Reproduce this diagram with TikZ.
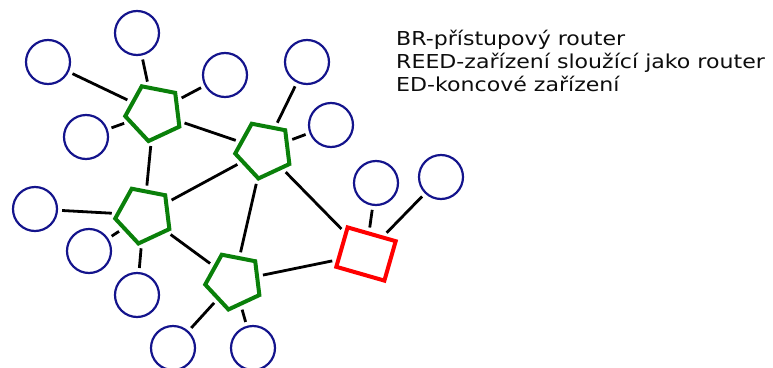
\documentclass[tikz,border=0pt]{standalone}
\usepackage{fontspec}
\setmainfont[FakeStretch=1.15]{DejaVu Sans}
\usetikzlibrary{shapes.geometric}
\definecolor{ednavy}{RGB}{20,20,140}
\definecolor{reedgreen}{RGB}{10,128,10}
\tikzset{
  ed/.style={circle,draw=ednavy,line width=2.2pt,minimum size=44pt,inner sep=0pt},
  reed/.style={regular polygon,regular polygon sides=5,draw=reedgreen,line width=4pt,minimum size=58pt,inner sep=0pt,shape border rotate=25},
  br/.style={rectangle,draw=red,line width=4pt,minimum width=50pt,minimum height=41pt,inner sep=0pt,rotate=-16},
  link/.style={draw=black,line width=2.8pt,shorten <=4pt,shorten >=4pt},
  legend/.style={anchor=base west,inner sep=0pt,font=\fontsize{19.2}{23}\selectfont,text=black!95}
}
\begin{document}
\begin{tikzpicture}[x=1pt,y=-1pt]
\useasboundingbox (0,0) rectangle (773,367);
% routers
\node[reed] (p1) at (154,112.6) {};
\node[reed] (p2) at (264,150) {};
\node[reed] (p3) at (144,215) {};
\node[reed] (p4) at (234,281) {};
\node[br] (br) at (366,254) {};
% end devices
\node[ed] (c1) at (48,62) {};
\node[ed] (c2) at (137,33) {};
\node[ed] (c3) at (225,75) {};
\node[ed] (c4) at (86,137) {};
\node[ed] (c5) at (307,62) {};
\node[ed] (c6) at (331,125) {};
\node[ed] (c7) at (35,209) {};
\node[ed] (c8) at (89,251) {};
\node[ed] (c9) at (137,295) {};
\node[ed] (c10) at (173,348) {};
\node[ed] (c11) at (253,348) {};
\node[ed] (c12) at (376,183) {};
\node[ed] (c13) at (441,177) {};
% links
\draw[link] (c1) -- (p1);
\draw[link] (c2) -- (p1);
\draw[link] (c3) -- (p1);
\draw[link] (c4) -- (p1);
\draw[link] (p1) -- (p2);
\draw[link] (p1) -- (p3);
\draw[link] (c5) -- (p2);
\draw[link] (c6) -- (p2);
\draw[link] (p2) -- (p3);
\draw[link] (p2) -- (p4);
\draw[link] (p2) -- (br);
\draw[link] (c7) -- (p3);
\draw[link] (c8) -- (p3);
\draw[link] (c9) -- (p3);
\draw[link] (p3) -- (p4);
\draw[link] (p4) -- (br);
\draw[link] (c10) -- (p4);
\draw[link] (c11) -- (p4);
\draw[link] (c12) -- (br);
\draw[link] (c13) -- (br);
% legend
\node[legend] (l1) at (396,45) {BR-přístupový router};
\node[legend] (l2) at (396,68.3) {REED-zařízení sloužící jako router};
\node[legend] (l3) at (396,91.7) {ED-koncové zařízení};
\end{tikzpicture}
\end{document}
